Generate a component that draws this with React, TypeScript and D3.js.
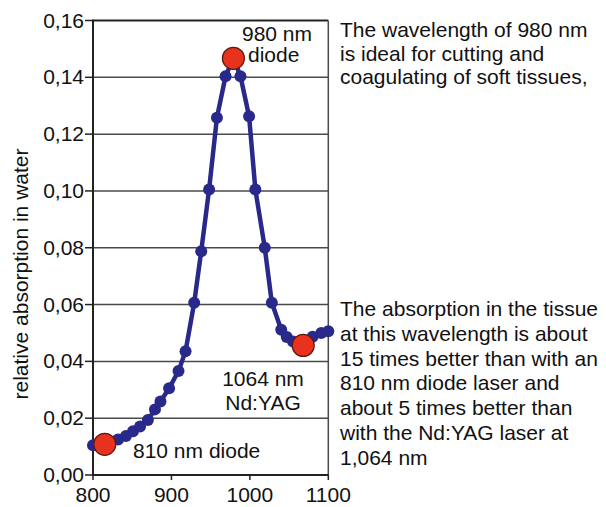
import React from 'react';
import * as d3 from 'd3';

// Water absorption curve
const wavelengths = [800, 815, 822, 832, 842, 851, 860, 870, 879, 886, 897, 909, 918, 929, 938, 948, 958, 969, 979, 988, 999, 1007, 1019, 1028, 1040, 1047, 1055, 1068, 1080, 1091, 1100];
const absorption = [0.0105, 0.0108, 0.0116, 0.0125, 0.0137, 0.0154, 0.0171, 0.0194, 0.0231, 0.0259, 0.0305, 0.0366, 0.0436, 0.0606, 0.0788, 0.1005, 0.1258, 0.1404, 0.1467, 0.1404, 0.1263, 0.1005, 0.08, 0.0606, 0.0511, 0.0486, 0.047, 0.0456, 0.0487, 0.05, 0.0506];

// Highlighted lasers
const laserWavelengths = [815, 979, 1068];
const laserAbsorption = [0.0108, 0.1467, 0.0456];

const xTicks = [800, 900, 1000, 1100];
const yTicks = [0, 0.02, 0.04, 0.06, 0.08, 0.1, 0.12, 0.14, 0.16];

const topText = ['The wavelength of 980 nm', 'is ideal for cutting and', 'coagulating of soft tissues,'];
const bottomText = [
  'The absorption in the tissue',
  'at this wavelength is about',
  '15 times better than with an',
  '810 nm diode laser and',
  'about 5 times better than',
  'with the Nd:YAG laser at',
  '1,064 nm',
];

const W = 606;
const H = 507;
const FONT = "'Liberation Sans', Arial, Helvetica, sans-serif";
const FS = 21;

const App: React.FC = () => {
  const x = d3.scaleLinear().domain([800, 1100]).range([93, 328.3]);
  const y = d3.scaleLinear().domain([0, 0.16]).range([475, 20.5]);

  const pts = wavelengths.map((w, i) => [w, absorption[i]] as [number, number]);
  const line = d3.line<[number, number]>()
    .x(d => x(d[0]))
    .y(d => y(d[1]))
    .curve(d3.curveLinear);

  const fmt = (v: number) => v.toFixed(2).replace('.', ',');

  return (
    <svg width={W} height={H} style={{ position: 'absolute', left: 0, top: 0, background: '#fff' }} fontFamily={FONT}>
      {/* grid lines */}
      {yTicks.map(t => (
        <line key={'g' + t} x1={x(800)} x2={x(1100)} y1={y(t)} y2={y(t)}
          stroke={t === 0.16 ? '#222' : '#4a4a4a'} strokeWidth={t === 0.16 ? 2 : 1.5} />
      ))}
      {/* right border */}
      <line x1={x(1100)} x2={x(1100)} y1={y(0.16)} y2={y(0)} stroke="#4a4a4a" strokeWidth={1.5} />

      {/* axes */}
      <line x1={x(800)} x2={x(800)} y1={y(0.16) - 1} y2={y(0) + 1} stroke="#222" strokeWidth={2} />
      <line x1={x(800)} x2={x(1100)} y1={y(0)} y2={y(0)} stroke="#222" strokeWidth={2} />
      {yTicks.map(t => (
        <g key={'yt' + t}>
          <line x1={x(800) - 8} x2={x(800)} y1={y(t)} y2={y(t)} stroke="#222" strokeWidth={1.5} />
          <text x={x(800) - 9} y={y(t) + 7} textAnchor="end" fontSize={FS} fill="#111">{fmt(t)}</text>
        </g>
      ))}
      {xTicks.map(t => (
        <g key={'xt' + t}>
          <line x1={x(t)} x2={x(t)} y1={y(0)} y2={y(0) + 5} stroke="#222" strokeWidth={1.5} />
          <text x={x(t)} y={502} textAnchor="middle" fontSize={FS} fill="#111">{t}</text>
        </g>
      ))}

      <text transform="translate(28,274) rotate(-90)" textAnchor="middle" fontSize={FS} fill="#111">
        relative absorption in water
      </text>

      {/* curve */}
      <path d={line(pts) || ''} fill="none" stroke="#28298a" strokeWidth={4.5} strokeLinejoin="round" strokeLinecap="round" />
      {pts.map((p, i) => (
        <circle key={'p' + i} cx={x(p[0])} cy={y(p[1])} r={6} fill="#28298a" />
      ))}
      {laserWavelengths.map((w, i) => (
        <circle key={'l' + i} cx={x(w)} cy={y(laserAbsorption[i])} r={11} fill="#e8321e" stroke="#5e1a10" strokeWidth={1.2} />
      ))}

      {/* annotations inside plot */}
      <text x={242} y={41} fontSize={FS} fill="#111">980 nm</text>
      <text x={248} y={62} fontSize={FS} fill="#111">diode</text>
      <text x={263} y={386} textAnchor="middle" fontSize={FS} fill="#111">1064 nm</text>
      <text x={263} y={410} textAnchor="middle" fontSize={FS} fill="#111">Nd:YAG</text>
      <text x={133} y={458} fontSize={FS} fill="#111">810 nm diode</text>

      {/* side notes */}
      {topText.map((s, i) => (
        <text key={'tt' + i} x={340} y={37 + i * 23.5} fontSize={FS} fill="#111">{s}</text>
      ))}
      {bottomText.map((s, i) => (
        <text key={'bt' + i} x={340} y={316 + i * 24.8} fontSize={FS} fill="#111">{s}</text>
      ))}
    </svg>
  );
};

export default App;
